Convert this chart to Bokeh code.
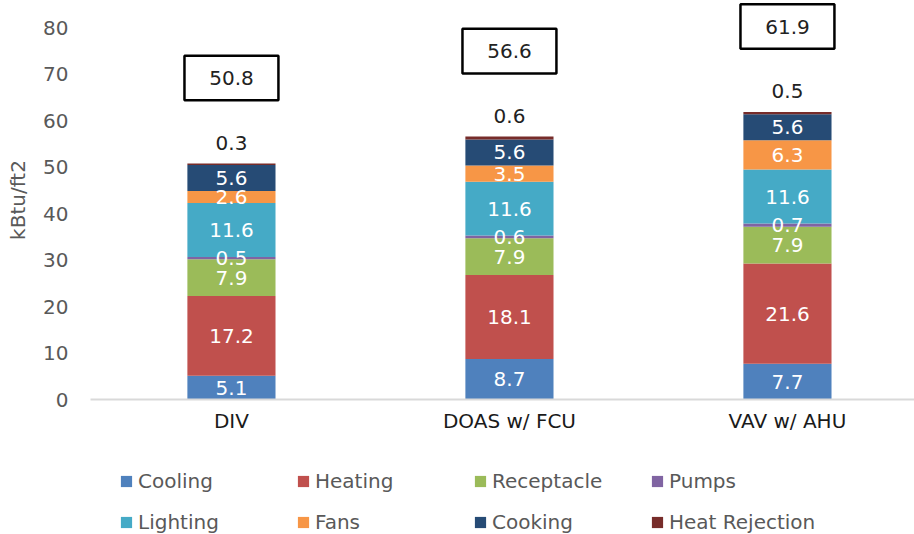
import numpy as np
from bokeh.plotting import figure
from bokeh.layouts import column
from bokeh.models import ColumnDataSource, Range1d, FixedTicker, Legend, LegendItem
from bokeh.core.properties import value
from bokeh.embed import file_html
from bokeh.resources import INLINE

# ---- data ----
systems = ["DIV", "DOAS w/ FCU", "VAV w/ AHU"]
end_uses = ["Cooling", "Heating", "Receptacle", "Pumps",
            "Lighting", "Fans", "Cooking", "Heat Rejection"]
cooling = [5.1, 8.7, 7.7]
heating = [17.2, 18.1, 21.6]
receptacle = [7.9, 7.9, 7.9]
pumps = [0.5, 0.6, 0.7]
lighting = [11.6, 11.6, 11.6]
fans = [2.6, 3.5, 6.3]
cooking = [5.6, 5.6, 5.6]
heat_rejection = [0.3, 0.6, 0.5]
totals = [50.8, 56.6, 61.9]
y_ticks = [0, 10, 20, 30, 40, 50, 60, 70, 80]
colors = ["#4F81BD", "#C0504D", "#9BBB59", "#8064A2",
          "#45AAC6", "#F79646", "#264B75", "#772C2A"]

FONT = "DejaVu Sans"
FS = "20px"
series = [cooling, heating, receptacle, pumps, lighting, fans, cooking, heat_rejection]
keys = ["s%d" % i for i in range(len(series))]
xs = list(range(len(systems)))

data = {"x": xs}
for k, s in zip(keys, series):
    data[k] = s
source = ColumnDataSource(data)

W = 914
H_MAIN = 450
H_LEG = 84

p = figure(width=W, height=H_MAIN,
           x_range=Range1d(-0.507, 2.457), y_range=Range1d(0, 85.9),
           output_backend="svg", toolbar_location=None,
           min_border_left=90, min_border_right=0,
           min_border_top=0, min_border_bottom=H_MAIN - 399)
p.outline_line_color = None
p.grid.visible = False
p.background_fill_color = "white"

renderers = p.vbar_stack(keys, x="x", width=0.317, source=source,
                         fill_color=colors, line_color=None)

# inside labels
lx, ly, lt = [], [], []
arr = np.array(series)
cum = np.cumsum(arr, axis=0)
for i in range(len(series) - 1):
    for j in xs:
        lx.append(j)
        ly.append(cum[i, j] - arr[i, j] / 2.0)
        lt.append("%.1f" % arr[i, j])
p.text(x=lx, y=ly, text=lt, text_color="white", text_align="center",
       text_baseline="middle", text_font=value(FONT), text_font_size=FS)

# heat rejection labels above bars
p.text(x=xs, y=[t + 4.5 for t in totals], text=["%.1f" % v for v in heat_rejection],
       text_color="#222222", text_align="center", text_baseline="middle",
       text_font=value(FONT), text_font_size=FS)

# total boxes
box_y = [t + 18.4 for t in totals]
p.rect(x=xs, y=box_y, width=0.338, height=9.6, fill_color="white",
       line_color="black", line_width=2.5)
p.text(x=xs, y=box_y, text=["%.1f" % t for t in totals], text_color="#222222",
       text_align="center", text_baseline="middle",
       text_font=value(FONT), text_font_size=FS)

# axes
p.yaxis.ticker = FixedTicker(ticks=y_ticks)
p.yaxis.axis_line_color = None
p.yaxis.major_tick_line_color = None
p.yaxis.minor_tick_line_color = None
p.yaxis.major_tick_out = 0
p.yaxis.major_tick_in = 0
p.yaxis.major_label_standoff = 22
p.yaxis.major_label_text_font = FONT
p.yaxis.major_label_text_font_size = FS
p.yaxis.major_label_text_color = "#595959"
p.yaxis.axis_label = "kBtu/ft2"
p.yaxis.axis_label_text_font = FONT
p.yaxis.axis_label_text_font_size = FS
p.yaxis.axis_label_text_font_style = "normal"
p.yaxis.axis_label_text_color = "#595959"
p.yaxis.axis_label_standoff = 10

p.xaxis.ticker = FixedTicker(ticks=xs)
p.xaxis.major_label_overrides = {i: s for i, s in zip(xs, systems)}
p.xaxis.axis_line_color = "#D9D9D9"
p.xaxis.axis_line_width = 2
p.xaxis.major_tick_line_color = None
p.xaxis.minor_tick_line_color = None
p.xaxis.major_tick_out = 0
p.xaxis.major_tick_in = 0
p.xaxis.major_label_standoff = 9
p.xaxis.major_label_text_font = FONT
p.xaxis.major_label_text_font_size = FS
p.xaxis.major_label_text_color = "#1A1A1A"

# legend strip below the chart (its frame is aligned with the chart's frame)
q = figure(width=W, height=H_LEG, x_range=Range1d(0, 1), y_range=Range1d(0, 1),
           output_backend="svg", toolbar_location=None,
           x_axis_location=None, y_axis_location=None,
           min_border_left=0, min_border_right=0, min_border_top=0, min_border_bottom=0)
q.outline_line_color = None
q.grid.visible = False
swatches = [q.rect(x=[-10], y=[-10], width=1, height=1, fill_color=c, line_color=None)
            for c in colors]

def make_legend(idx, loc):
    items = [LegendItem(label=end_uses[i], renderers=[swatches[i]]) for i in idx]
    return Legend(items=items, orientation="horizontal", location=loc,
                  glyph_width=14, glyph_height=14, label_standoff=5,
                  label_width=150, spacing=8, padding=0, margin=0,
                  border_line_color=None, background_fill_alpha=0,
                  label_text_font=FONT, label_text_font_size=FS,
                  label_text_color="#595959")

q.add_layout(make_legend([0, 1, 2, 3], (29, 41)))
q.add_layout(make_legend([4, 5, 6, 7], (29, 0)))

open("out.html", "w").write(file_html(column(p, q, spacing=0), INLINE))
